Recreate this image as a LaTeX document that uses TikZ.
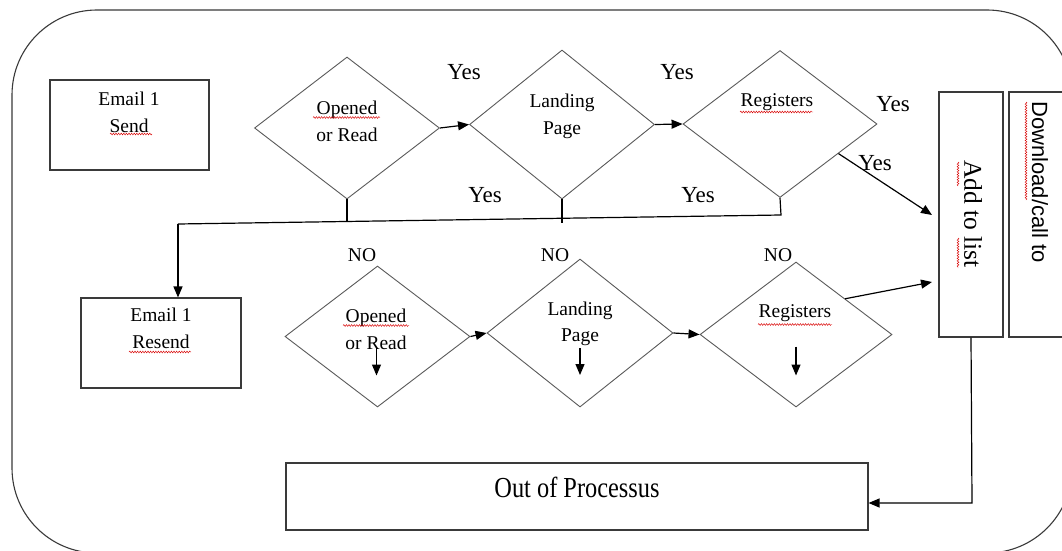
\documentclass[tikz,border=0pt]{standalone}
\usepackage{fontspec}
\setmainfont{Liberation Serif}
\newfontfamily\arialfont{Liberation Sans}
\usetikzlibrary{shapes.geometric,arrows.meta,calc,decorations.pathmorphing}
\definecolor{linegray}{HTML}{3A3A3A}
\definecolor{diagray}{HTML}{5A5A5A}
\tikzset{
  box/.style={draw=linegray, line width=1.1pt, inner sep=0pt},
  decision/.style 2 args={diamond, draw=diagray, line width=0.9pt, inner sep=0pt,
    minimum width=#1, minimum height=#2},
  lbl/.style={align=center, inner sep=0pt, font=\fontsize{19.5}{26.5}\selectfont},
  yeslbl/.style={inner sep=0pt, font=\fontsize{23}{23}\selectfont},
  conn/.style={draw=black, line width=1.2pt},
  arr/.style={conn, -{Triangle[length=11pt,width=9pt]}},
  spell/.style={draw=red!85!black, line width=0.45pt, decorate,
    decoration={snake, segment length=2.6pt, amplitude=0.9pt}}
}
\begin{document}
\begin{tikzpicture}[x=1pt,y=-1pt]
\useasboundingbox (0,0) rectangle (1062,551);
\clip (0,0) rectangle (1062,551);
\fill[white] (0,0) rectangle (1062,551);

% outer frame
\draw[draw=linegray, line width=1.1pt, rounded corners=85pt] (12,10) rectangle (1072,553);

% boxes
\node[box, minimum width=159pt, minimum height=90pt] (send) at (129.5,125) {};
\node[box, minimum width=160pt, minimum height=90pt] (resend) at (161,343) {};
\node[box, minimum width=582pt, minimum height=67pt] (out) at (577,496.5) {};
\node[box, minimum width=64pt, minimum height=245pt] (add) at (971,214.5) {};
\node[box, minimum width=66pt, minimum height=245pt] (dl) at (1042,214.5) {};

% upper decisions
\node[decision={185pt}{142pt}] (d1) at (347,128) {};
\node[decision={185pt}{149pt}] (d2) at (562,124.5) {};
\node[decision={194pt}{147pt}] (d3) at (780,124) {};

% lower decisions
\node[decision={185pt}{141pt}] (b1) at (377.5,336.5) {};
\node[decision={186pt}{148pt}] (b2) at (580,333) {};
\node[decision={192pt}{145pt}] (b3) at (796,334.5) {};

% texts
\node[lbl] (tsend) at (129,112.5) {Email 1\\Send};
\node[lbl] (tresend) at (161,328.5) {Email 1\\Resend};
\node[lbl] (td1) at (347,121.5) {Opened\\or Read};
\node[lbl] (td2) at (562,116.5) {Landing\\Page};
\node[lbl] (td3) at (777,102) {Registers};
\node[lbl] (tb1) at (376,329.5) {Opened\\or Read};
\node[lbl] (tb2) at (580,324) {Landing\\Page};
\node[lbl] (tb3) at (795,313) {Registers};
\node[inner sep=0pt, font=\fontsize{29}{30}\selectfont] (tout) at (577,487) {\scalebox{0.84}[1]{Out of Processus}};
\node[inner sep=0pt, rotate=-90, font=\fontsize{25.5}{26}\selectfont] (tadd) at (973,214) {Add to list};
\node[inner sep=0pt, rotate=-90, anchor=west, font=\arialfont\fontsize{22}{22}\selectfont] (tdl) at (1040,101) {Download/call to};

% Yes / NO labels
\node[yeslbl] (y1) at (464,72) {Yes};
\node[yeslbl] (y2) at (677,72) {Yes};
\node[yeslbl] (y3) at (893,104) {Yes};
\node[yeslbl] (y4) at (875,163) {Yes};
\node[yeslbl] (y5) at (485,195) {Yes};
\node[yeslbl] (y6) at (698,195) {Yes};
\node[lbl] (n1) at (362,255) {NO};
\node[lbl] (n2) at (555,255) {NO};
\node[lbl] (n3) at (778,255) {NO};

% flow along the upper row
\draw[arr] (d1.east) -- (d2.west);
\draw[arr] (d2.east) -- (d3.west);
\coordinate (addin1) at (932,215);
\draw[arr] ($(d3.east)!0.4!(d3.south)$) -- (addin1);

% return line to the resend box
\coordinate (ret) at (781,215);
\coordinate (split) at (178,224);
\draw[conn] (d3.south) -- (ret) -- (split);
\draw[conn] (d1.south) -- ($(d1.south)+(0,23)$);
\draw[conn] (d2.south) -- ($(d2.south)+(0,24)$);
\draw[arr] (split) -- ($(resend.north)+(17,0)$);

% flow along the lower row
\draw[arr] (b1.east) -- (b2.west);
\draw[arr] (b2.east) -- (b3.west);
\coordinate (addin2) at (932,282);
\draw[arr] ($(b3.north)!0.51!(b3.east)$) -- (addin2);
\draw[arr] ($(b1.center)+(-1,11)$) -- ($(b1.center)+(-1,39)$);
\draw[arr] ($(b2.center)+(0,15)$) -- ($(b2.center)+(0,42)$);
\draw[arr] ($(b3.center)+(0,12)$) -- ($(b3.center)+(0,41)$);

% exit path
\draw[arr] (add.south) -- (972,503) -- ($(out.east)+(0,6.5)$);

% spelling marks
\draw[spell] (110,134) -- (152,134);
\draw[spell] (313,117.5) -- (380,117.5);
\draw[spell] (740,112) -- (813,112);
\draw[spell] (129,352) -- (191,352);
\draw[spell] (343,325.5) -- (409,325.5);
\draw[spell] (758,324.5) -- (832,324.5);
\draw[spell] (958,162) -- (958,186);
\draw[spell] (958,238) -- (958,268);
\draw[spell] (1026,102) -- (1026,200);
\end{tikzpicture}
\end{document}
